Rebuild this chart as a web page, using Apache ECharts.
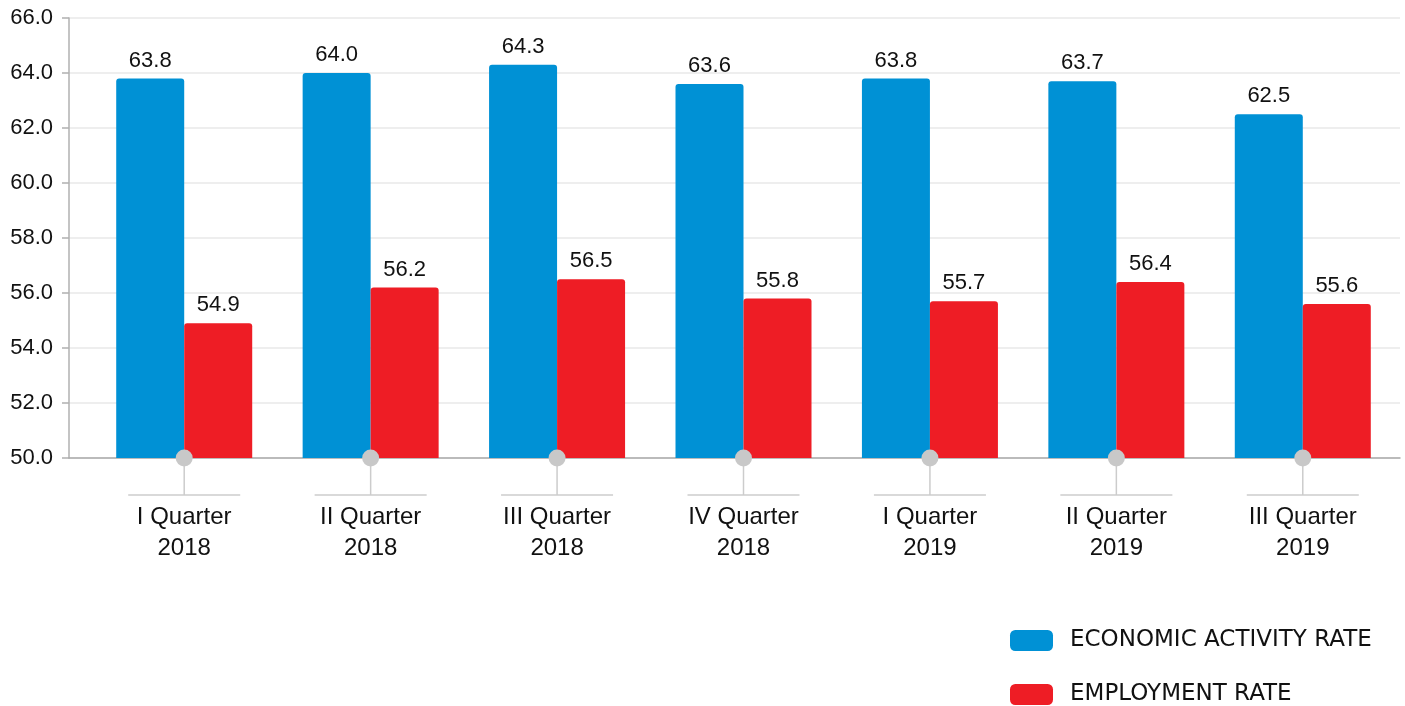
<!DOCTYPE html>
<html>
<head>
<meta charset="utf-8">
<script src="https://cdn.jsdelivr.net/npm/echarts@6/dist/echarts.min.js"></script>
<style>
  html, body { margin: 0; padding: 0; background: #fff; }
  #chart { width: 1405px; height: 706px; }
</style>
</head>
<body>
<div id="chart"></div>
<script>
var categories = ['I Quarter\n2018', 'II Quarter\n2018', 'III Quarter\n2018', 'IV Quarter\n2018',
  'I Quarter\n2019', 'II Quarter\n2019', 'III Quarter\n2019'];
var activityRate = [63.8, 64.0, 64.3, 63.6, 63.8, 63.7, 62.5];
var employmentRate = [54.9, 56.2, 56.5, 55.8, 55.7, 56.4, 55.6];
var seriesNames = ['ECONOMIC ACTIVITY RATE', 'EMPLOYMENT RATE'];
var yMin = 50;
var yMax = 66;

var font = 'Liberation Sans, Arial, sans-serif';
var myChart = echarts.init(document.getElementById('chart'));

function legendItem(name, top) {
  return {
    left: 1010,
    top: top,
    padding: 0,
    itemWidth: 43,
    itemHeight: 21,
    icon: 'roundRect',
    data: [name],
    textStyle: {
      fontFamily: 'DejaVu Sans, sans-serif',
      fontSize: 23,
      color: '#111',
      padding: [0, 0, 0, 12]
    }
  };
}

// grid 0 carries the axis lines / gridlines, grid 1 carries the bars
var option = {
  animation: false,
  grid: [
    { left: 69, right: 5, top: 18, bottom: 248 },
    { left: 91, right: 9, top: 18, bottom: 248 }
  ],
  legend: [legendItem(seriesNames[0], 629), legendItem(seriesNames[1], 683)],
  xAxis: [
    {
      gridIndex: 0, type: 'value', min: 0, max: 1,
      axisLine: { show: true, onZero: false, lineStyle: { color: '#aaaaaa', width: 1.5 } },
      axisTick: { show: false }, axisLabel: { show: false }, splitLine: { show: false }
    },
    {
      gridIndex: 1, type: 'category', data: categories,
      axisLine: { show: false }, axisTick: { show: false },
      axisLabel: {
        margin: 44, fontFamily: font, fontSize: 24, color: '#111', lineHeight: 31,
        interval: 0
      }
    }
  ],
  yAxis: [
    {
      gridIndex: 0, type: 'value', min: yMin, max: yMax, interval: 2,
      axisLine: { show: true, lineStyle: { color: '#b0b0b0', width: 1.5 } },
      axisTick: { show: true, length: 7, lineStyle: { color: '#b0b0b0', width: 1.5 } },
      axisLabel: {
        margin: 16, fontFamily: font, fontSize: 22, color: '#111',
        formatter: function (v) { return v.toFixed(1); }
      },
      splitLine: { lineStyle: { color: '#e8e8e8', width: 1.5 } }
    },
    {
      gridIndex: 1, type: 'value', min: yMin, max: yMax, interval: 2,
      axisLine: { show: false }, axisTick: { show: false }, axisLabel: { show: false },
      splitLine: { show: false }
    }
  ],
  series: [
    {
      name: seriesNames[0], type: 'bar', xAxisIndex: 1, yAxisIndex: 1,
      data: activityRate, barWidth: 68, barGap: '0%',
      itemStyle: { color: '#0091d5', borderRadius: [3, 3, 0, 0] },
      label: {
        show: true, position: 'top', distance: 7, fontFamily: font, fontSize: 22, color: '#111',
        formatter: function (p) { return p.value.toFixed(1); }
      }
    },
    {
      name: seriesNames[1], type: 'bar', xAxisIndex: 1, yAxisIndex: 1,
      data: employmentRate, barWidth: 68,
      itemStyle: { color: '#ee1d25', borderRadius: [3, 3, 0, 0] },
      label: {
        show: true, position: 'top', distance: 7, fontFamily: font, fontSize: 22, color: '#111',
        formatter: function (p) { return p.value.toFixed(1); }
      }
    },
    {
      type: 'custom', xAxisIndex: 1, yAxisIndex: 1, z: 10, silent: true,
      data: categories.map(function (c, i) { return [i, yMin]; }),
      renderItem: function (params, api) {
        var p = api.coord([api.value(0), api.value(1)]);
        var x = p[0], y = p[1];
        return {
          type: 'group',
          children: [
            { type: 'line', shape: { x1: x, y1: y, x2: x, y2: y + 37 },
              style: { stroke: '#cccccc', lineWidth: 1.5 } },
            { type: 'line', shape: { x1: x - 56, y1: y + 37, x2: x + 56, y2: y + 37 },
              style: { stroke: '#cccccc', lineWidth: 1.5 } },
            { type: 'circle', shape: { cx: x, cy: y, r: 8.5 },
              style: { fill: '#c8c8c8' } }
          ]
        };
      }
    }
  ]
};
myChart.setOption(option);
</script>
</body>
</html>
